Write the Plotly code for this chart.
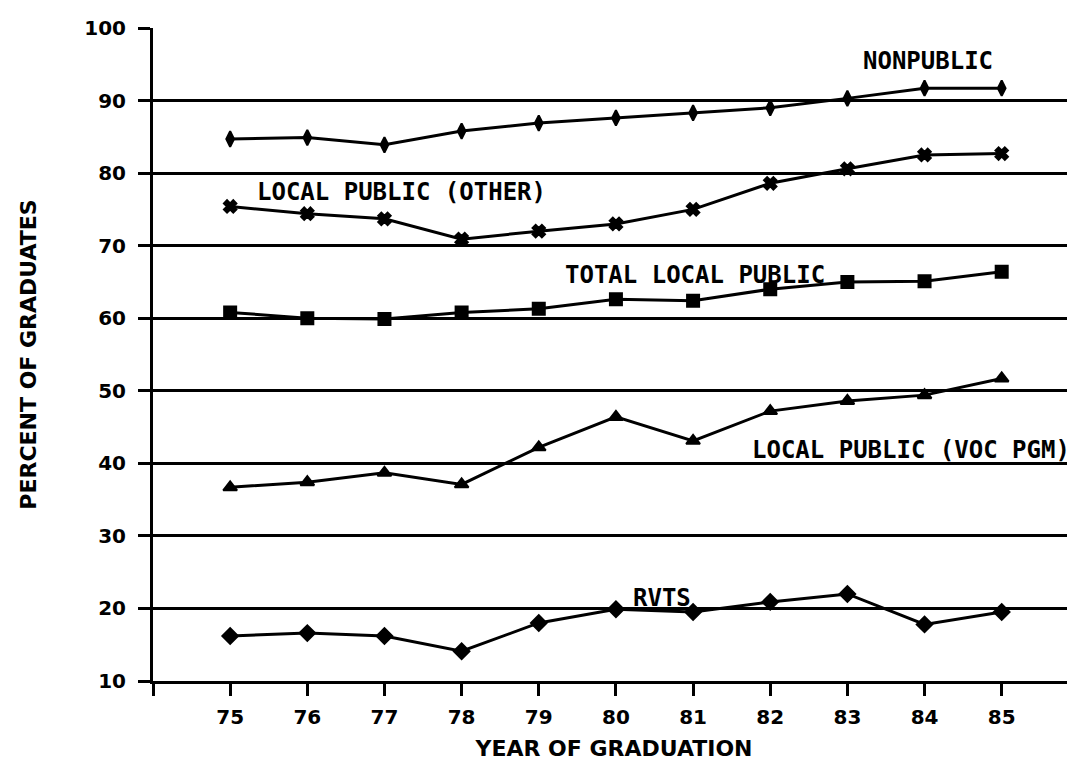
import plotly.graph_objects as go

years = [75, 76, 77, 78, 79, 80, 81, 82, 83, 84, 85]
nonpublic = [84.7, 84.9, 83.9, 85.8, 86.9, 87.6, 88.3, 89.0, 90.3, 91.7, 91.7]
local_other = [75.4, 74.4, 73.7, 70.9, 72.0, 73.0, 75.0, 78.6, 80.6, 82.5, 82.7]
total_local = [60.8, 60.0, 59.9, 60.8, 61.3, 62.6, 62.4, 64.0, 65.0, 65.1, 66.4]
voc_pgm = [36.7, 37.4, 38.7, 37.1, 42.2, 46.4, 43.1, 47.2, 48.6, 49.4, 51.7]
rvts = [16.2, 16.6, 16.2, 14.1, 18.0, 19.9, 19.5, 20.9, 22.0, 17.8, 19.5]

series = [
    ("NONPUBLIC", nonpublic, "diamond-tall", 11),
    ("LOCAL PUBLIC (OTHER)", local_other, "x", 11),
    ("TOTAL LOCAL PUBLIC", total_local, "square", 12),
    ("LOCAL PUBLIC (VOC PGM)", voc_pgm, "triangle-up", 12),
    ("RVTS", rvts, "diamond", 12),
]

# label anchors: (text, x, y)
labels = [
    ("NONPUBLIC", 83.17, 95.4),
    ("LOCAL PUBLIC (OTHER)", 75.32, 77.4),
    ("TOTAL LOCAL PUBLIC", 79.32, 66.0),
    ("LOCAL PUBLIC (VOC PGM)", 81.74, 41.9),
    ("RVTS", 80.2, 21.4),
]

fig = go.Figure()
for name, vals, sym, sz in series:
    fig.add_trace(go.Scatter(
        x=years, y=vals, mode="lines+markers", name=name,
        line=dict(color="black", width=3),
        marker=dict(symbol=sym, size=sz, color="black",
                    line=dict(color="black", width=2)),
        showlegend=False,
    ))

# helper trace to show inner ticks on the y axis
fig.add_trace(go.Scatter(x=years[:1], y=rvts[:1], yaxis="y2", mode="markers",
                         marker=dict(opacity=0), hoverinfo="skip", showlegend=False))

lab_font = dict(family="DejaVu Sans Mono", size=24, color="black", weight="bold")
for text, x, y in labels:
    fig.add_annotation(x=x, y=y, text=text, showarrow=False,
                       xanchor="left", yanchor="middle", font=lab_font)

tick_font = dict(family="DejaVu Sans", size=20, color="black", weight="bold")
title_font = dict(family="DejaVu Sans", size=22, color="black", weight="bold")

fig.update_layout(
    width=1075, height=770,
    margin=dict(l=145, r=8, t=13, b=97),
    plot_bgcolor="white", paper_bgcolor="white",
    xaxis=dict(
        range=[74, 85.95],
        tickvals=[74] + years,
        ticktext=[""] + [str(y) for y in years],
        ticks="outside", ticklen=12, tickwidth=3, tickcolor="black",
        ticklabelstandoff=4,
        showgrid=False, zeroline=False,
        showline=True, linecolor="black", linewidth=3,
        tickfont=tick_font,
        title=dict(text="YEAR OF GRADUATION", font=title_font, standoff=13),
    ),
    yaxis=dict(
        range=[10, 100],
        tickvals=[10, 20, 30, 40, 50, 60, 70, 80, 90, 100],
        ticks="outside", ticklen=12, tickwidth=3, tickcolor="black",
        ticklabelstandoff=8,
        showgrid=True, gridcolor="black", gridwidth=3,
        zeroline=False,
        showline=True, linecolor="black", linewidth=3,
        tickfont=tick_font,
        title=dict(text="PERCENT OF GRADUATES", font=title_font, standoff=42),
    ),
    yaxis2=dict(
        range=[10, 100], overlaying="y", side="left",
        tickvals=[10, 20, 30, 40, 50, 60, 70, 80, 90, 100],
        ticks="inside", ticklen=10, tickwidth=3, tickcolor="black",
        showticklabels=False, showgrid=False, zeroline=False, showline=False,
    ),
)

fig.write_html("out.html")
